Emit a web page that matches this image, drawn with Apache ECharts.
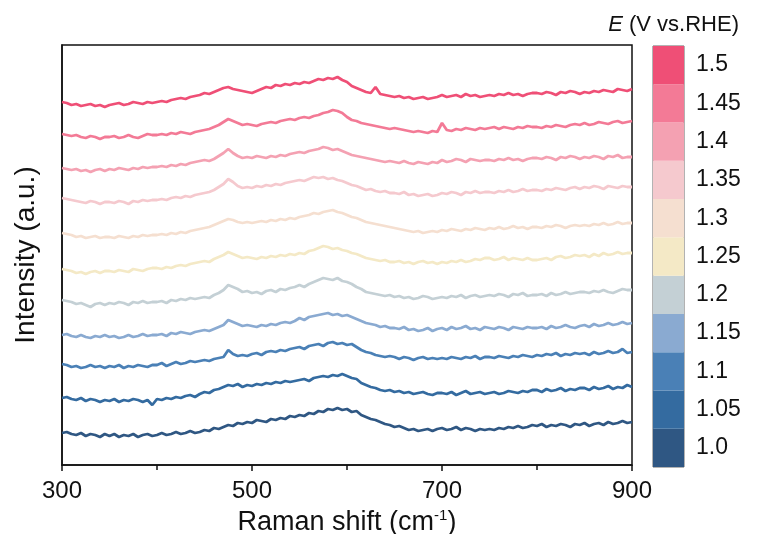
<!DOCTYPE html>
<html>
<head>
<meta charset="utf-8">
<script src="https://cdn.jsdelivr.net/npm/echarts@6/dist/echarts.min.js"></script>
<style>
  html, body { margin: 0; padding: 0; background: #fff; }
  #chart { width: 758px; height: 534px; }
</style>
</head>
<body>
<div id="chart"></div>
<script>
// Raman spectra recorded at increasing electrode potential, stacked with an offset.
// Each spectrum is sampled every 5 cm-1 from 300 to 900 cm-1.
const shiftStart = 300;
const shiftStep = 5;

// Applied potentials (V vs. RHE), bottom to top
const potentials = ['1.0', '1.05', '1.1', '1.15', '1.2', '1.25', '1.3', '1.35', '1.4', '1.45', '1.5'];
const potentialColors = ['#2f5783', '#346ba0', '#4a80b6', '#8aaad1', '#c4d0d5', '#f4e9c6',
                         '#f5dfd0', '#f5c9ce', '#f4a1b2', '#f37a96', '#ef4f76'];

// Offset intensities (a.u.)
const spec100 = [
  32,33,31,30,32,29,31,30,28,31, 29,31,28,30,29,31,28,30,31,29,
  30,32,30,31,33,31,32,34,32,33, 35,34,37,36,38,40,39,42,41,43,
  42,45,44,43,46,45,47,46,49,48, 50,49,52,51,54,53,56,55,57,55,
  56,53,54,50,48,46,45,43,41,40, 38,39,37,35,36,34,35,36,34,36,
  37,35,36,38,35,37,36,34,36,35, 36,35,37,36,38,37,39,37,38,40,
  39,41,38,40,39,41,40,38,41,40, 42,39,41,42,40,43,41,42,44,42,
  43];
const spec105 = [
  67,68,66,65,67,64,66,65,63,65, 64,66,63,65,64,66,65,63,65,60,
  66,65,67,66,68,67,69,70,68,71, 73,72,75,76,78,80,79,81,78,80,
  79,81,80,82,81,83,82,84,83,84, 85,86,84,87,88,89,88,90,89,91,
  89,87,86,82,80,78,77,75,74,75, 73,74,72,73,71,72,73,71,70,72,
  72,71,73,70,72,74,71,72,73,71, 72,73,71,72,74,73,72,74,73,75,
  75,73,76,74,75,77,74,76,75,77, 77,75,78,76,77,79,76,78,77,80,
  78];
const spec110 = [
  101,100,98,99,97,98,100,98,99,97, 99,98,100,97,99,98,100,99,98,100,
  100,102,99,101,103,101,102,104,103,104, 105,104,106,107,108,115,111,109,110,109,
  111,112,110,113,114,113,115,114,116,117, 118,116,119,120,121,119,122,123,121,122,
  120,121,118,115,113,112,110,109,108,109, 108,106,108,107,105,107,108,106,107,106,
  107,106,108,107,106,108,107,109,106,108, 108,107,109,108,107,109,108,110,109,108,
  110,109,111,110,112,109,111,110,112,111, 112,110,113,111,112,114,112,113,116,112,
  113];
const spec115 = [
  130,131,129,128,130,128,127,129,128,130, 128,129,127,128,130,128,129,131,129,130,
  130,131,129,132,131,133,132,131,133,134, 135,134,136,138,140,145,143,141,139,140,
  139,138,140,139,141,140,142,143,142,144, 147,145,148,149,150,151,152,150,151,149,
  150,148,146,144,142,141,140,138,139,137, 137,136,138,135,136,134,135,137,134,136,
  137,135,138,136,137,139,136,137,135,138, 137,136,138,137,135,138,137,136,138,137,
  137,138,136,139,137,138,140,138,137,139, 140,138,141,139,140,142,140,141,143,141,
  142];
const spec120 = [
  165,164,163,161,162,160,158,161,162,160, 162,161,163,162,160,163,162,164,162,163,
  163,164,162,165,164,166,165,167,166,167, 168,167,170,172,175,180,178,176,173,174,
  172,173,171,174,175,173,176,175,177,178, 180,178,181,183,185,187,186,185,187,184,
  183,181,178,176,173,172,171,170,169,170, 168,169,167,168,166,167,169,168,166,167,
  168,167,169,168,170,167,169,170,168,169, 170,169,171,170,168,171,170,172,169,170,
  170,171,169,172,170,171,173,171,172,173, 173,172,174,173,175,173,172,174,176,175,
  175];
const spec125 = [
  196,195,194,192,193,191,193,194,192,194, 194,193,195,194,193,196,195,194,196,197,
  197,196,198,197,199,200,199,201,202,203, 204,203,206,208,210,213,211,209,207,208,
  207,206,208,207,209,208,210,209,211,210, 212,211,214,215,217,219,218,216,217,215,
  214,212,211,209,207,206,205,204,205,203, 203,204,202,203,201,203,204,202,203,201,
  203,202,204,203,205,203,204,206,205,207, 207,205,206,208,205,207,206,205,207,205,
  205,206,207,205,208,209,207,208,210,209, 210,208,211,209,212,210,211,213,211,212,
  212];
const spec130 = [
  232,231,230,228,229,227,228,229,227,228, 228,227,229,228,227,229,228,230,229,230,
  230,231,230,232,231,233,232,234,235,236, 237,238,240,242,244,246,245,243,242,243,
  242,243,244,243,245,244,246,245,247,246, 248,249,250,252,251,253,254,255,253,252,
  250,248,247,245,243,242,241,240,239,238, 237,236,235,234,233,234,232,233,234,233,
  235,234,236,235,234,236,235,237,236,235, 237,236,238,236,237,239,237,238,236,238,
  238,237,239,238,240,239,237,239,240,239, 240,239,241,240,242,240,241,243,241,242,
  242];
const spec135 = [
  267,266,265,264,263,262,264,263,261,263, 263,262,264,263,261,264,263,265,264,265,
  265,266,265,267,268,267,269,268,270,271, 272,273,275,278,281,286,283,279,277,278,
  277,279,278,280,279,281,280,282,283,284, 285,284,286,288,287,288,286,287,285,284,
  282,280,279,277,275,276,274,273,274,272, 272,271,273,270,271,269,270,271,269,270,
  272,271,273,272,270,273,272,274,272,273, 273,272,274,273,275,273,274,276,274,275,
  275,274,276,275,277,276,275,277,278,276, 278,277,279,278,276,279,278,277,279,278,
  278];
const spec140 = [
  297,296,295,296,294,295,293,295,296,294, 296,295,297,296,295,297,296,298,297,298,
  298,299,298,300,299,301,300,302,303,304, 305,304,306,309,312,316,312,309,307,308,
  307,309,308,307,309,308,310,309,311,312, 313,312,314,315,316,318,317,315,316,314,
  312,310,309,308,307,306,305,304,303,304, 303,302,304,302,301,303,302,301,303,302,
  305,303,304,306,305,303,306,305,304,305, 305,304,306,305,307,305,306,304,306,307,
  307,306,308,307,305,308,307,309,308,306, 308,307,309,308,306,309,308,310,307,308,
  308];
const spec145 = [
  331,330,329,330,328,327,329,328,326,328, 328,329,327,328,330,328,327,329,331,330,
  330,331,330,332,331,333,332,331,333,334, 335,336,338,340,343,346,344,342,340,341,
  340,339,341,342,343,342,344,345,346,345, 347,348,347,349,350,352,353,355,354,352,
  348,345,344,342,341,340,339,338,337,336, 337,336,335,334,333,334,333,332,334,333,
  342,335,334,336,335,337,336,335,337,336, 337,338,336,338,337,336,338,337,339,338,
  338,337,339,338,340,339,338,340,341,340, 342,340,341,343,342,341,343,344,342,343,
  344];
const spec150 = [
  363,362,360,361,359,360,361,359,360,358, 360,361,362,360,361,363,362,361,363,362,
  363,364,363,365,366,367,366,368,369,370, 372,371,373,375,377,378,376,375,374,373,
  372,374,376,378,377,380,379,381,380,382, 381,383,382,384,386,385,387,386,388,385,
  383,379,377,375,373,372,378,371,370,369, 368,369,367,368,366,367,368,366,367,368,
  370,368,369,370,368,371,369,370,368,369, 370,369,371,370,372,370,371,369,371,372,
  372,371,373,372,370,373,372,374,373,371, 373,372,374,373,375,374,373,376,375,374,
  376];

const spectra = [spec100, spec105, spec110, spec115, spec120, spec125,
                 spec130, spec135, spec140, spec145, spec150];

const xTickLabels = [300, 500, 700, 900];

const font = 'Arial, "Liberation Sans", sans-serif';
const ink = '#111111';

const lineSeries = spectra.map((vals, k) => ({
  type: 'line',
  name: potentials[k],
  xAxisIndex: 0,
  yAxisIndex: 0,
  showSymbol: false,
  smooth: false,
  silent: true,
  lineStyle: { color: potentialColors[k], width: 2.8 },
  data: vals.map((v, i) => [shiftStart + i * shiftStep, v])
}));

// Colour bar: one cell per potential
const colorBarSeries = {
  type: 'bar',
  xAxisIndex: 1,
  yAxisIndex: 1,
  silent: true,
  barWidth: '100%',
  barCategoryGap: 0,
  data: potentials.map((p, k) => ({ value: 1, itemStyle: { color: potentialColors[k] } }))
};

const chart = echarts.init(document.getElementById('chart'), null, { renderer: 'canvas' });
chart.setOption({
  animation: false,
  backgroundColor: '#ffffff',
  title: {
    text: '{it|E} (V vs.RHE)',
    right: 14,
    top: 9,
    textStyle: {
      fontFamily: font, fontSize: 22, fontWeight: 'normal', color: ink,
      rich: { it: { fontFamily: font, fontSize: 22, fontStyle: 'italic', color: ink } }
    }
  },
  grid: [
    { left: 62, right: 126, top: 45, bottom: 69, outerBoundsMode: 'none', containLabel: false,
      show: true, borderColor: ink, borderWidth: 1.5 },
    { left: 653, width: 31, top: 46, height: 421, outerBoundsMode: 'none', containLabel: false,
      show: true, borderColor: '#666', borderWidth: 1 }
  ],
  xAxis: [
    {
      type: 'value', gridIndex: 0, min: 300, max: 900, interval: 200,
      axisLine: { lineStyle: { color: ink, width: 1.5 } },
      axisTick: { show: true, length: 6, lineStyle: { color: ink, width: 1.5 } },
      minorTick: { show: true, splitNumber: 2, length: 5, lineStyle: { color: ink, width: 1.5 } },
      splitLine: { show: false },
      axisLabel: {
        fontFamily: font, fontSize: 24, color: ink, margin: 14,
        formatter: v => (xTickLabels.includes(v) ? String(v) : '')
      },
      name: 'Raman shift (cm{sup|-1})',
      nameLocation: 'middle',
      nameGap: 41,
      nameTextStyle: {
        fontFamily: font, fontSize: 27, color: ink,
        rich: { sup: { fontFamily: font, fontSize: 15, color: ink, verticalAlign: 'top', padding: [0, 0, 14, 0] } }
      }
    },
    {
      type: 'value', gridIndex: 1, min: 0, max: 1, show: false
    }
  ],
  yAxis: [
    {
      type: 'value', gridIndex: 0, min: 0, max: 420,
      axisLine: { show: true, lineStyle: { color: ink, width: 1.5 } },
      axisTick: { show: false },
      axisLabel: { show: false },
      splitLine: { show: false },
      name: 'Intensity (a.u.)',
      nameLocation: 'middle',
      nameGap: 22,
      nameTextStyle: { fontFamily: font, fontSize: 28, color: ink }
    },
    {
      type: 'category', gridIndex: 1, position: 'right', data: potentials,
      axisLine: { show: false },
      axisTick: { show: true, alignWithLabel: true, length: 6, lineStyle: { color: '#444', width: 1 } },
      axisLabel: { fontFamily: font, fontSize: 23, color: ink, margin: 12 }
    }
  ],
  series: [...lineSeries, colorBarSeries]
});
</script>
</body>
</html>
